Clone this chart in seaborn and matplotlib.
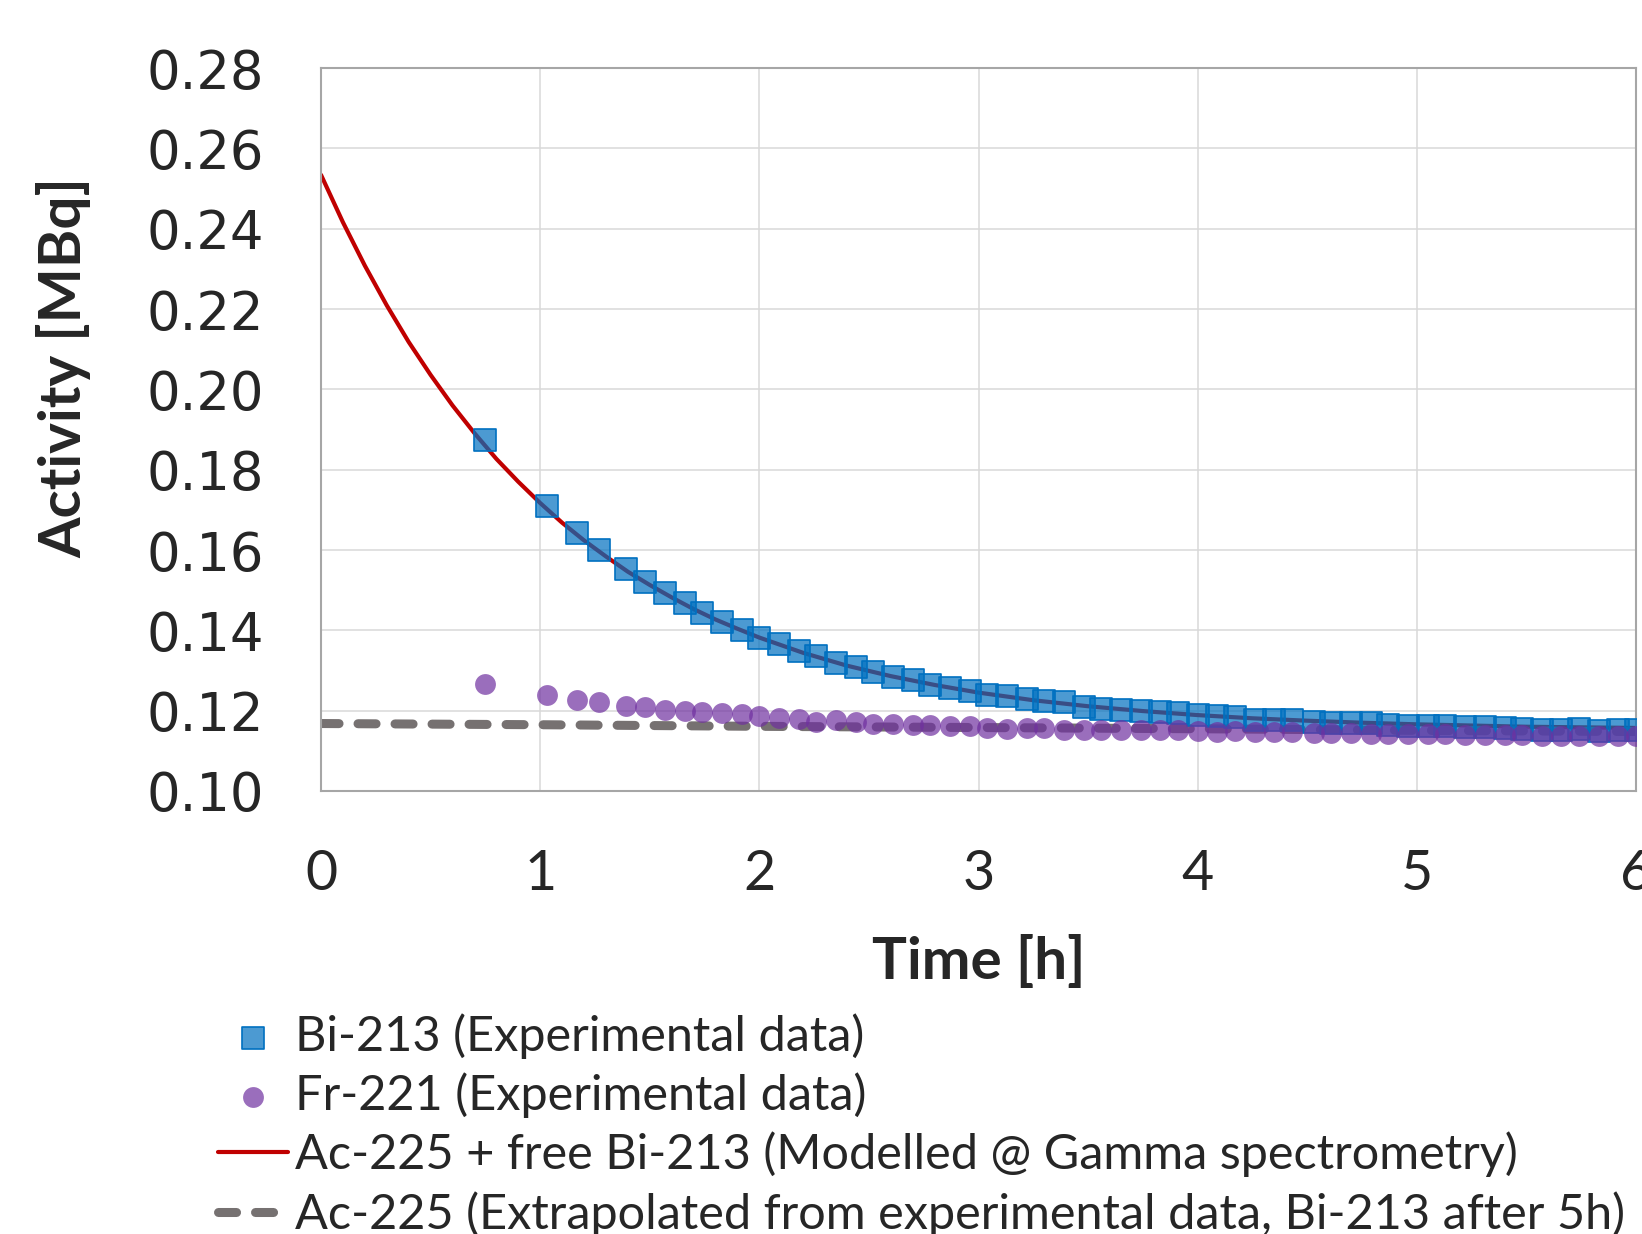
import matplotlib
matplotlib.use("Agg")
import matplotlib.pyplot as plt
import seaborn as sns

# measurement times (h)
time_h = [0.75, 1.03, 1.17, 1.27, 1.39, 1.48, 1.57, 1.66, 1.74, 1.83, 1.92, 2.00,
          2.09, 2.18, 2.26, 2.35, 2.44, 2.52, 2.61, 2.70, 2.78, 2.87, 2.96, 3.04,
          3.13, 3.22, 3.30, 3.39, 3.48, 3.56, 3.65, 3.74, 3.83, 3.91, 4.00, 4.09,
          4.17, 4.26, 4.35, 4.43, 4.53, 4.61, 4.70, 4.79, 4.87, 4.96, 5.05, 5.13,
          5.22, 5.31, 5.40, 5.48, 5.57, 5.66, 5.74, 5.83, 5.92, 6.00]

# Bi-213 activity (MBq)
bi213 = [0.1875, 0.1709, 0.1643, 0.1601, 0.1553, 0.1520, 0.1492, 0.1468, 0.1442, 0.1421,
         0.1400, 0.1382, 0.1365, 0.1348, 0.1335, 0.1318, 0.1309, 0.1296, 0.1285, 0.1277,
         0.1265, 0.1257, 0.1249, 0.1240, 0.1236, 0.1229, 0.1224, 0.1221, 0.1210, 0.1205,
         0.1202, 0.1199, 0.1197, 0.1194, 0.1188, 0.1186, 0.1183, 0.1178, 0.1176, 0.1176,
         0.1172, 0.1170, 0.1170, 0.1169, 0.1165, 0.1163, 0.1163, 0.1161, 0.1159, 0.1159,
         0.1157, 0.1155, 0.1153, 0.1153, 0.1155, 0.1150, 0.1153, 0.1152]

# Fr-221 activity (MBq)
fr221 = [0.1267, 0.1238, 0.1226, 0.1221, 0.1212, 0.1210, 0.1202, 0.1199, 0.1196, 0.1194,
         0.1191, 0.1186, 0.1182, 0.1179, 0.1173, 0.1177, 0.1172, 0.1168, 0.1166, 0.1165,
         0.1165, 0.1162, 0.1161, 0.1157, 0.1155, 0.1157, 0.1158, 0.1153, 0.1153, 0.1153,
         0.1153, 0.1153, 0.1151, 0.1151, 0.1149, 0.1147, 0.1149, 0.1148, 0.1147, 0.1147,
         0.1144, 0.1144, 0.1144, 0.1143, 0.1143, 0.1142, 0.1141, 0.1141, 0.1140, 0.1140,
         0.1139, 0.1139, 0.1138, 0.1138, 0.1137, 0.1137, 0.1136, 0.1136]

# modelled curve Ac-225 + free Bi-213
model_t = [0.0, 0.1, 0.2, 0.3, 0.4, 0.5, 0.6, 0.7, 0.8, 0.9, 1.0, 1.1, 1.2, 1.3, 1.4,
           1.5, 1.6, 1.7, 1.8, 1.9, 2.0, 2.2, 2.4, 2.6, 2.8, 3.0, 3.25, 3.5, 3.75,
           4.0, 4.25, 4.5, 4.75, 5.0, 5.5, 6.0]
model_v = [0.2534, 0.2416, 0.2308, 0.2209, 0.2118, 0.2036, 0.1960, 0.1891, 0.1827, 0.1770,
           0.1717, 0.1668, 0.1624, 0.1584, 0.1546, 0.1513, 0.1482, 0.1453, 0.1427, 0.1404,
           0.1382, 0.1344, 0.1312, 0.1286, 0.1264, 0.1245, 0.1226, 0.1211, 0.1199,
           0.1189, 0.1181, 0.1175, 0.1170, 0.1166, 0.1160, 0.1157]

# extrapolated Ac-225
ac_t = [0, 1, 2, 3, 4, 5, 6]
ac_v = [0.1168, 0.1165, 0.1161, 0.1158, 0.1155, 0.1151, 0.1148]

x_ticks = [0, 1, 2, 3, 4, 5, 6]
y_ticks = [0.10, 0.12, 0.14, 0.16, 0.18, 0.20, 0.22, 0.24, 0.26, 0.28]

lbl_bi = "Bi-213 (Experimental data)"
lbl_fr = "Fr-221 (Experimental data)"
lbl_model = "Ac-225 + free Bi-213 (Modelled @ Gamma spectrometry)"
lbl_ac = "Ac-225 (Extrapolated from experimental data, Bi-213 after 5h)"

sns.set_theme(style="white")
plt.rcParams['font.family'] = ['Lato', 'DejaVu Sans']

W, H = 1642, 1234
fig = plt.figure(figsize=(W / 100, H / 100), dpi=100)
ax = fig.add_axes([321 / W, 1 - 791 / H, 1315 / W, 723 / H])

# lines first (under the markers)
sns.lineplot(x=model_t, y=model_v, ax=ax, color='#C00000', linewidth=3,
             estimator=None, sort=False, zorder=2, label=lbl_model)
sns.lineplot(x=ac_t, y=ac_v, ax=ax, color='#767171', linewidth=6.5,
             linestyle=(0, (2, 2.1)), dash_capstyle='round',
             estimator=None, sort=False, zorder=2, label=lbl_ac)

sns.scatterplot(x=time_h, y=bi213, ax=ax, marker='s', s=250,
                color=(0.0, 0.439, 0.753, 0.7), edgecolor='#0070C0', linewidth=1.2,
                zorder=3, label=lbl_bi)
sns.scatterplot(x=time_h, y=fr221, ax=ax, marker='o', s=225,
                color=(0.439, 0.188, 0.627, 0.7), linewidth=0,
                zorder=4, label=lbl_fr)

ax.set_xlim(0, 6)
ax.set_ylim(0.10, 0.28)
ax.set_xticks(x_ticks)
ax.set_xticklabels([str(v) for v in x_ticks], fontsize=40)
ax.set_yticks(y_ticks)
ax.set_yticklabels([f"{v:.2f}" for v in y_ticks], fontsize=38, fontfamily='DejaVu Sans')
ax.tick_params(axis='both', length=0)
ax.tick_params(axis='x', pad=42)
ax.tick_params(axis='y', pad=41)

ax.grid(True, color='#D9D9D9', linewidth=1.1)
ax.set_axisbelow(True)
for sp in ax.spines.values():
    sp.set_color('#A6A6A6')
    sp.set_linewidth(1.5)

ax.set_xlabel("Time [h]", fontsize=42, fontweight='bold')
ax.xaxis.set_label_coords(0.5, (791 - 979) / 723)
ax.xaxis.label.set_verticalalignment('baseline')
ax.set_ylabel("Activity [MBq]", fontsize=42, fontweight='bold')
ax.yaxis.set_label_coords((81 - 321) / 1315, (791 - 367.6) / 723)
ax.yaxis.label.set_verticalalignment('baseline')

handles, labels = ax.get_legend_handles_labels()
lookup = dict(zip(labels, handles))
order = [lbl_bi, lbl_fr, lbl_model, lbl_ac]
ax.legend([lookup[k] for k in order], order, loc='upper left',
          bbox_to_anchor=(218 / W, 1 - 1013 / H), bbox_transform=fig.transFigure,
          frameon=False, fontsize=35, handlelength=1.43, handletextpad=0.16,
          labelspacing=0.28, borderpad=0, borderaxespad=0)

fig.savefig("out.png", dpi=100)
